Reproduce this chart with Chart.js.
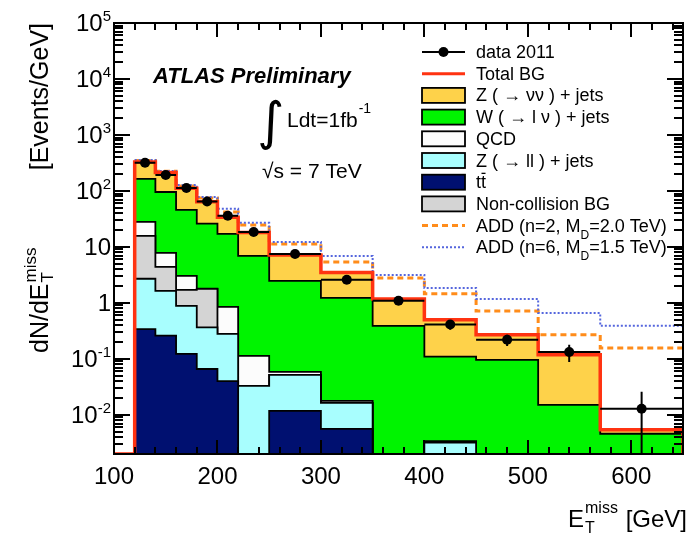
<!DOCTYPE html>
<html>
<head>
<meta charset="utf-8">
<script src="https://cdn.jsdelivr.net/npm/chart.js@4.4.0/dist/chart.umd.min.js"></script>
<style>
  html, body { margin: 0; padding: 0; background: #fff; }
  #c { display: block; }
</style>
</head>
<body>
<canvas id="c" width="688" height="533"></canvas>
<script>
// MET bins (GeV) and the stacked backgrounds, events/GeV
const binEdges = [120, 140, 160, 180, 200, 220, 250, 300, 350, 400, 450, 510, 570, 650];
const ttbar    = [0.34, 0.26, 0.123, 0.066, 0.040, 0, 0.0118, 0.0056, 0, 0, 0, 0, 0];
const zll      = [2.36, 1.38, 0.76, 0.30, 0.24, 0.033, 0.040, 0.0108, 0, 0.0032, 0, 0, 0];
const nonColl  = [13.0, 2.76, 0.83, 1.41, 0, 0, 0, 0, 0, 0, 0, 0, 0];
const qcd      = [12.3, 3.4, 1.32, 0.02, 0.57, 0.080, 0.007, 0.0014, 0, 0.0002, 0, 0, 0];
const wjets    = [136, 88, 43, 24.2, 16.2, 6.8, 2.41, 1.21, 0.39, 0.106, 0.096, 0.0151, 0.0046];
const znunu    = [166, 118, 66, 38, 16.9, 11.1, 4.73, 2.27, 0.79, 0.39, 0.174, 0.103, 0.0008];

// data 2011
const dataValues = [318, 193, 113, 65, 36, 18.5, 7.5, 2.6, 1.09, 0.41, 0.22, 0.133, 0.0129];
const dataErrors = [4, 3, 2.4, 1.8, 1.3, 0.8, 0.4, 0.23, 0.15, 0.08, 0.05, 0.045, 0.0129];

// ADD signal + background
const addN2 = [350, 225, 123, 75, 42, 24.7, 11.3, 5.4, 2.8, 1.45, 0.72, 0.27, 0.157];
const addN6 = [358, 228, 128, 78, 48, 27, 12.3, 6.9, 3.16, 1.85, 1.18, 0.66, 0.39];

const xTicks = [100, 200, 300, 400, 500, 600];

const Y_MIN = 0.002, Y_MAX = 1e5;
const FONT = '"Liberation Sans", Arial, Helvetica, sans-serif';
const RED = '#ff3311', ORANGE = '#ff8c1a', BLUE = '#5566dd';

// histogram outline, dropping to the axis at both ends
function histPoints(values, drop) {
  const pts = [];
  const last = binEdges[binEdges.length - 1];
  if (drop) pts.push({x: binEdges[0], y: Y_MIN});
  values.forEach(function(v, i) {
    pts.push({x: binEdges[i], y: v > Y_MIN ? v : Y_MIN});
  });
  const lastV = values[values.length - 1];
  pts.push({x: last, y: lastV > Y_MIN ? lastV : Y_MIN});
  if (drop) pts.push({x: last, y: Y_MIN});
  return pts;
}

// stack from the bottom up, like THStack
const layers = [
  {label: 'ttbar', values: ttbar, color: '#001070'},
  {label: 'Z(ll)', values: zll, color: '#a8fefe'},
  {label: 'Non-collision BG', values: nonColl, color: '#d4d4d4'},
  {label: 'QCD', values: qcd, color: '#fcfcfc'},
  {label: 'W', values: wjets, color: '#00f400'},
  {label: 'Z(nunu)', values: znunu, color: '#fed24a'}
];
let running = dataValues.map(function() { return 0; });
const stackDatasets = layers.map(function(layer, i) {
  running = running.map(function(s, j) { return s + layer.values[j]; });
  return {
    label: layer.label,
    data: histPoints(running, true),
    stepped: true,
    fill: 'start',
    backgroundColor: layer.color,
    borderColor: '#000',
    borderWidth: 1.8,
    pointRadius: 0,
    order: 5 + i
  };
});
const totalBG = running;

const totalPoints = [{x: 100, y: Y_MIN}].concat(histPoints(totalBG, true));

const errorSegments = [];
dataValues.forEach(function(v, i) {
  const lo = binEdges[i], hi = binEdges[i + 1], mid = (lo + hi) / 2;
  errorSegments.push({x: lo, y: v}, {x: hi, y: v}, {x: mid, y: null});
  errorSegments.push({x: mid, y: v + dataErrors[i]}, {x: mid, y: Math.max(v - dataErrors[i], Y_MIN)}, {x: mid, y: null});
});
const dataPoints = dataValues.map(function(v, i) {
  return {x: (binEdges[i] + binEdges[i + 1]) / 2, y: v};
});

function put(ctx, text, x, y, size, opts) {
  opts = opts || {};
  ctx.font = (opts.style ? opts.style + ' ' : '') + size + 'px ' + (opts.family || FONT);
  ctx.textAlign = opts.align || 'left';
  ctx.textBaseline = 'alphabetic';
  ctx.fillStyle = '#000';
  ctx.fillText(text, x, y);
  return x + ctx.measureText(text).width;
}

function drawFrame(chart) {
  const ctx = chart.ctx, a = chart.chartArea, xs = chart.scales.x, ys = chart.scales.y;
  const left = a.left, right = a.right, top = a.top, bottom = a.bottom;
  ctx.save();
  ctx.setLineDash([]);
  ctx.strokeStyle = '#000';
  ctx.lineWidth = 2;
  ctx.beginPath();
  // inward ticks on all four sides, ROOT style
  for (let gev = 100; gev < 650; gev += 20) {
    const px = Math.round(xs.getPixelForValue(gev));
    const tl = gev % 100 === 0 ? 14 : 7;
    ctx.moveTo(px, bottom);
    ctx.lineTo(px, bottom - tl);
    ctx.moveTo(px, top);
    ctx.lineTo(px, top + tl);
  }
  for (let k = -3; k < 5; k++) {
    for (let m = 1; m < 10; m++) {
      const val = m * Math.pow(10, k);
      if (val < Y_MIN || val > Y_MAX) continue;
      const py = Math.round(ys.getPixelForValue(val));
      const tl = m === 1 ? 16 : 9;
      ctx.moveTo(left, py);
      ctx.lineTo(left + tl, py);
      ctx.moveTo(right, py);
      ctx.lineTo(right - tl, py);
    }
  }
  ctx.stroke();
  ctx.strokeRect(left, top, right - left, bottom - top);
  ctx.restore();
}

function drawYLabels(chart) {
  const ctx = chart.ctx, ys = chart.scales.y;
  for (let k = -2; k <= 5; k++) {
    const base = ys.getPixelForValue(Math.pow(10, k)) + 8;
    if (k === 0 || k === 1) {
      put(ctx, k === 0 ? '1' : '10', 111, base, 24, {align: 'right'});
    } else {
      const exp = String(k);
      ctx.font = '15px ' + FONT;
      const w = ctx.measureText(exp).width;
      put(ctx, exp, 111, base - 10, 15, {align: 'right'});
      put(ctx, '10', 111 - w, base, 24, {align: 'right'});
    }
  }
}

function drawTitles(chart) {
  const ctx = chart.ctx;
  // x title
  put(ctx, '[GeV]', 687, 527, 24, {align: 'right'});
  put(ctx, 'E', 568, 527, 24);
  put(ctx, 'miss', 585, 513, 16);
  put(ctx, 'T', 585, 533, 16);
  // y title, rotated
  ctx.save();
  ctx.translate(48, 353);
  ctx.rotate(-Math.PI / 2);
  const x1 = put(ctx, 'dN/dE', 0, 0, 25);
  put(ctx, 'miss', x1 + 1, -12, 17);
  put(ctx, 'T', x1 + 1, 5, 17);
  put(ctx, '[Events/GeV]', 330, 0, 25, {align: 'right'});
  ctx.restore();
}

const legendRows = [
  {kind: 'data', text: [['data 2011']]},
  {kind: 'line', color: RED, width: 3, text: [['Total BG']]},
  {kind: 'box', color: '#fed24a', text: [['Z ( \u2192 \u03bd\u03bd ) + jets']]},
  {kind: 'box', color: '#00f400', text: [['W ( \u2192 l \u03bd ) + jets']]},
  {kind: 'box', color: '#fcfcfc', text: [['QCD']]},
  {kind: 'box', color: '#a8fefe', text: [['Z ( \u2192 ll ) + jets']]},
  {kind: 'box', color: '#001070', text: [['tt']], tbar: true},
  {kind: 'box', color: '#d4d4d4', text: [['Non-collision BG']]},
  {kind: 'line', color: ORANGE, width: 3, dash: [6, 4], text: [['ADD (n=2, M'], ['D', 'sub'], ['=2.0 TeV)']]},
  {kind: 'line', color: BLUE, width: 2, dash: [2, 2], text: [['ADD (n=6, M'], ['D', 'sub'], ['=1.5 TeV)']]}
];

function drawLegend(chart) {
  const ctx = chart.ctx;
  const bx = 422, bw = 43, tx = 476;
  legendRows.forEach(function(row, i) {
    const cy = 52 + i * 21.7;
    ctx.save();
    if (row.kind === 'data') {
      ctx.strokeStyle = '#000'; ctx.lineWidth = 2;
      ctx.beginPath(); ctx.moveTo(bx, cy); ctx.lineTo(bx + bw, cy); ctx.stroke();
      ctx.fillStyle = '#000';
      ctx.beginPath(); ctx.arc(bx + bw / 2, cy, 5, 0, Math.PI * 2); ctx.fill();
    } else if (row.kind === 'line') {
      ctx.strokeStyle = row.color; ctx.lineWidth = row.width;
      ctx.setLineDash(row.dash || []);
      ctx.beginPath(); ctx.moveTo(bx, cy); ctx.lineTo(bx + bw, cy); ctx.stroke();
    } else {
      ctx.fillStyle = row.color;
      ctx.fillRect(bx, cy - 7.5, bw, 15);
      ctx.strokeStyle = '#000'; ctx.lineWidth = 1.8;
      ctx.strokeRect(bx, cy - 7.5, bw, 15);
    }
    ctx.restore();
    let x = tx;
    row.text.forEach(function(run) {
      if (run[1] === 'sub') x = put(ctx, run[0], x, cy + 13, 12);
      else x = put(ctx, run[0], x, cy + 6, 18);
    });
    if (row.tbar) {
      ctx.font = '18px ' + FONT;
      const w1 = ctx.measureText('t').width;
      ctx.fillStyle = '#000';
      ctx.fillRect(tx + w1 + 0.5, cy - 9.5, w1 - 1, 1.3);
    }
  });
}

function drawAnnotations(chart) {
  const ctx = chart.ctx;
  put(ctx, 'ATLAS Preliminary', 153, 83, 22, {style: 'italic bold'});
  put(ctx, '\u222b', 257, 139, 52, {family: '"DejaVu Sans", sans-serif'});
  const x1 = put(ctx, 'Ldt=1fb', 287, 127, 21);
  put(ctx, '-1', x1 + 1, 113, 14);
  put(ctx, '\u221as = 7 TeV', 262, 178, 21);
}

const atlasDecor = {
  id: 'atlasDecor',
  afterDraw: function(chart) {
    drawFrame(chart);
    drawYLabels(chart);
    drawTitles(chart);
    drawLegend(chart);
    drawAnnotations(chart);
  }
};

const datasets = [
  {
    label: 'data 2011',
    data: dataPoints,
    showLine: false,
    pointRadius: 5,
    pointBackgroundColor: '#000',
    pointBorderWidth: 0,
    order: 0
  },
  {
    label: 'data errors',
    data: errorSegments,
    borderColor: '#000',
    borderWidth: 2,
    pointRadius: 0,
    spanGaps: false,
    fill: false,
    order: 1
  },
  {
    label: 'Total BG',
    data: totalPoints,
    stepped: true,
    fill: false,
    borderColor: RED,
    borderWidth: 3.5,
    pointRadius: 0,
    order: 2
  },
  {
    label: 'ADD n=6',
    data: histPoints(addN6, false),
    stepped: true,
    fill: false,
    borderColor: BLUE,
    borderWidth: 2,
    borderDash: [2, 2],
    pointRadius: 0,
    order: 3
  },
  {
    label: 'ADD n=2',
    data: histPoints(addN2, false),
    stepped: true,
    fill: false,
    borderColor: ORANGE,
    borderWidth: 3,
    borderDash: [6, 4],
    pointRadius: 0,
    order: 4
  }
].concat(stackDatasets);

new Chart(document.getElementById('c'), {
  type: 'line',
  data: { datasets: datasets },
  options: {
    responsive: false,
    animation: false,
    devicePixelRatio: 1,
    events: [],
    layout: { padding: { left: 114, top: 23, right: 2, bottom: 0 } },
    plugins: { legend: { display: false }, tooltip: { enabled: false } },
    scales: {
      x: {
        type: 'linear',
        min: 100,
        max: 650,
        afterBuildTicks: function(scale) {
          scale.ticks = xTicks.map(function(v) { return {value: v}; });
        },
        grid: { display: false, drawTicks: false },
        border: { display: false },
        ticks: { color: '#000', font: { family: FONT, size: 24 }, padding: 9, maxRotation: 0 },
        afterFit: function(scale) { scale.height = 79; }
      },
      y: {
        type: 'logarithmic',
        display: false,
        min: Y_MIN,
        max: Y_MAX
      }
    }
  },
  plugins: [atlasDecor]
});
</script>
</body>
</html>
